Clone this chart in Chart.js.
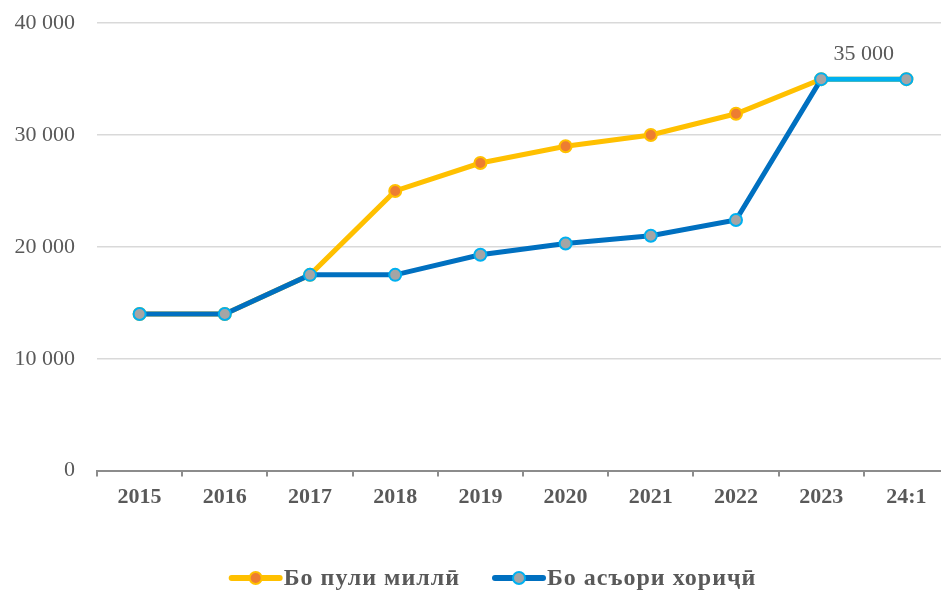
<!DOCTYPE html>
<html>
<head>
<meta charset="utf-8">
<script src="https://cdn.jsdelivr.net/npm/chart.js@4"></script>
<style>
  html, body { margin: 0; padding: 0; background: #fff; overflow: hidden; }
  #wrap { width: 941px; height: 591px; overflow: hidden; position: relative; }
  #chart { position: absolute; left: 0; top: -12px; }
</style>
</head>
<body>
<div id="wrap"><canvas id="chart" width="960" height="603"></canvas></div>
<script>
const years = ['2015', '2016', '2017', '2018', '2019', '2020', '2021', '2022', '2023', '24:1'];
const national = [14000, 14000, 17500, 25000, 27500, 29000, 30000, 31900, 35000, 35000];
const foreign = [14000, 14000, 17500, 17500, 19300, 20300, 21000, 22400, 35000, 35000];
const seriesNames = ['Бо пули миллӣ', 'Бо асъори хориҷӣ'];
const lastLabel = '35 000';

const serif = "'Liberation Serif', 'DejaVu Serif', serif";
const grey = '#595959';

function fmt(v) {
    return String(v).replace(/\B(?=(\d{3})+(?!\d))/g, ' ');
}

// подпись над последним отрезком
const endLabel = {
    id: 'endLabel',
    afterDatasetsDraw(chart) {
        const pts = chart.getDatasetMeta(1).data;
        const a = pts[pts.length - 2], b = pts[pts.length - 1];
        const c = chart.ctx;
        c.save();
        c.font = '22px ' + serif;
        c.fillStyle = grey;
        c.textAlign = 'center';
        c.textBaseline = 'middle';
        c.fillText(lastLabel, (a.x + b.x) / 2, a.y - 25);
        c.restore();
    }
};

// легенда: линия с маркером
const lineLegend = {
    id: 'lineLegend',
    afterDraw(chart) {
        const c = chart.ctx;
        const sets = chart.data.datasets;
        c.save();
        c.font = 'bold 24px ' + serif;
        c.letterSpacing = '1px';
        const lineW = 48, gapText = 4, gapItem = 35;
        const widths = sets.map(ds => lineW + gapText + c.measureText(ds.label).width);
        const total = widths.reduce((s, w) => s + w, 0) + gapItem * (sets.length - 1);
        let x = 494 - total / 2;
        const y = 590;
        sets.forEach((ds, i) => {
            c.strokeStyle = ds.borderColor;
            c.lineWidth = 6;
            c.lineCap = 'round';
            c.beginPath();
            c.moveTo(x, y);
            c.lineTo(x + lineW, y);
            c.stroke();
            c.beginPath();
            c.arc(x + lineW / 2, y, 6, 0, Math.PI * 2);
            c.fillStyle = ds.pointBackgroundColor;
            c.fill();
            c.lineWidth = 2;
            c.strokeStyle = ds.pointBorderColor;
            c.stroke();
            c.fillStyle = grey;
            c.textBaseline = 'middle';
            c.fillText(ds.label, x + lineW + gapText, y + 1);
            x += widths[i] + gapItem;
        });
        c.restore();
    }
};

new Chart(document.getElementById('chart'), {
    type: 'line',
    data: {
        labels: years,
        datasets: [{
            label: seriesNames[0],
            data: national,
            borderColor: '#FFC000',
            borderWidth: 5,
            pointBackgroundColor: '#ED7D31',
            pointBorderColor: '#FFC000',
            pointBorderWidth: 2,
            pointRadius: 6,
            tension: 0,
            order: 2
        }, {
            label: seriesNames[1],
            data: foreign,
            borderColor: '#0070C0',
            borderWidth: 5,
            pointBackgroundColor: '#A5A5A5',
            pointBorderColor: '#00B0F0',
            pointBorderWidth: 2,
            pointRadius: 6,
            tension: 0,
            order: 1,
            segment: {
                borderColor: ctx => ctx.p0DataIndex === 8 ? '#00B0F0' : undefined
            }
        }]
    },
    options: {
        responsive: false,
        animation: false,
        layout: { padding: { top: 0, right: 11, left: 0, bottom: 72 } },
        plugins: {
            legend: { display: false },
            tooltip: { enabled: false }
        },
        scales: {
            x: {
                offset: true,
                grid: {
                    offset: true,
                    drawOnChartArea: false,
                    color: '#8c8c8c',
                    tickLength: 6,
                    lineWidth: 2
                },
                border: { color: '#8c8c8c', width: 2 },
                ticks: {
                    color: grey,
                    font: { family: serif, size: 22, weight: 'bold' },
                    padding: 8,
                    maxRotation: 0,
                    autoSkip: false
                }
            },
            y: {
                min: 0,
                max: 40000,
                afterFit: s => { s.width = 97; },
                grid: {
                    color: ctx => ctx.tick.value === 0 ? 'rgba(0,0,0,0)' : '#d9d9d9',
                    lineWidth: 1.5,
                    drawTicks: false
                },
                border: { display: false },
                ticks: {
                    stepSize: 10000,
                    color: grey,
                    padding: 22,
                    font: { family: serif, size: 22 },
                    callback: v => fmt(v)
                }
            }
        }
    },
    plugins: [endLabel, lineLegend]
});
</script>
</body>
</html>
